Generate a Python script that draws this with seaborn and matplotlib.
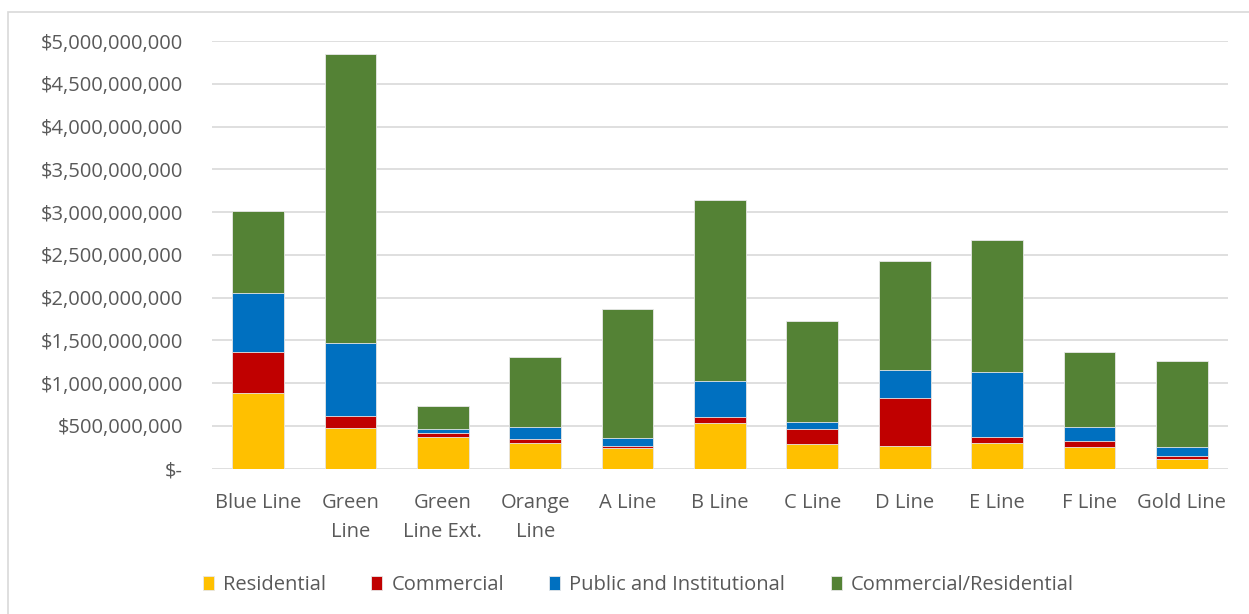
import matplotlib
matplotlib.use("Agg")
import matplotlib.pyplot as plt
from matplotlib.patches import Rectangle
from matplotlib.ticker import FuncFormatter, MultipleLocator
import numpy as np
import pandas as pd
import seaborn as sns

# Project lines and development value by land-use type (USD)
lines = ["Blue Line", "Green\nLine", "Green\nLine Ext.", "Orange\nLine", "A Line",
         "B Line", "C Line", "D Line", "E Line", "F Line", "Gold Line"]
residential = [886e6, 480e6, 371e6, 304e6, 246e6, 539e6, 293e6, 262e6, 304e6, 258e6, 117e6]
commercial = [484e6, 141e6, 44e6, 47e6, 16e6, 63e6, 168e6, 562e6, 64e6, 63e6, 35e6]
public_inst = [684e6, 854e6, 46e6, 141e6, 94e6, 421e6, 82e6, 328e6, 768e6, 171e6, 106e6]
comm_res = [956e6, 3378e6, 270e6, 816e6, 1514e6, 2123e6, 1183e6, 1280e6, 1542e6, 875e6, 1000e6]

series_names = ["Residential", "Commercial", "Public and Institutional", "Commercial/Residential"]
series_values = [residential, commercial, public_inst, comm_res]
colors = ["#FFC000", "#C00000", "#0070C0", "#548235"]

sns.set_theme(style="white")
plt.rcParams["font.family"] = ["Open Sans", "DejaVu Sans"]

fig = plt.figure(figsize=(12.49, 6.14), dpi=100)
ax = fig.add_axes([0.1697, 0.2366, 0.8135, 0.6966])

# Stack the segments: draw cumulative totals from the top series down
cum = np.cumsum(np.array(series_values), axis=0)
for i in range(len(series_names) - 1, -1, -1):
    df = pd.DataFrame({"line": lines, "value": cum[i]})
    sns.barplot(data=df, x="line", y="value", color=colors[i], ax=ax,
                width=0.56, saturation=1, edgecolor="#e8e8e8", linewidth=0.6,
                label=series_names[i])

text_gray = "#595959"
fs = 14.5
ax.set_ylim(0, 5e9)
ax.set_xlim(-0.5, len(lines) - 0.5)
ax.yaxis.set_major_locator(MultipleLocator(5e8))
ax.yaxis.set_major_formatter(FuncFormatter(lambda v, p: "$-" if v == 0 else f"${v:,.0f}"))
ax.grid(axis="y", color="#d9d9d9", linewidth=1.2)
ax.set_axisbelow(True)
for s in ax.spines.values():
    s.set_visible(False)
ax.set_xlabel("")
ax.set_ylabel("")
ax.tick_params(axis="y", length=0, pad=21, labelsize=fs, labelcolor=text_gray)
ax.tick_params(axis="x", length=0, pad=17.5, labelsize=fs, labelcolor=text_gray)
for lbl in ax.get_xticklabels():
    lbl.set_linespacing(1.6)

handles, labels = ax.get_legend_handles_labels()
order = [labels.index(n) for n in series_names]
fig.legend([handles[k] for k in order], [labels[k] for k in order],
           loc="center", bbox_to_anchor=(0.511, 0.047), ncol=4, frameon=False,
           fontsize=fs, labelcolor=text_gray, handlelength=0.55, handleheight=0.7,
           handletextpad=0.45, columnspacing=2.25)
if ax.get_legend() is not None:
    ax.get_legend().remove()

# Chart-area border
fig.patches.append(Rectangle((8 / 1249, -0.1), 1.2, 1 - 12 / 614 + 0.1,
                             transform=fig.transFigure, fill=False,
                             edgecolor="#d9d9d9", linewidth=1.2))

fig.savefig("out.png", dpi=100)
